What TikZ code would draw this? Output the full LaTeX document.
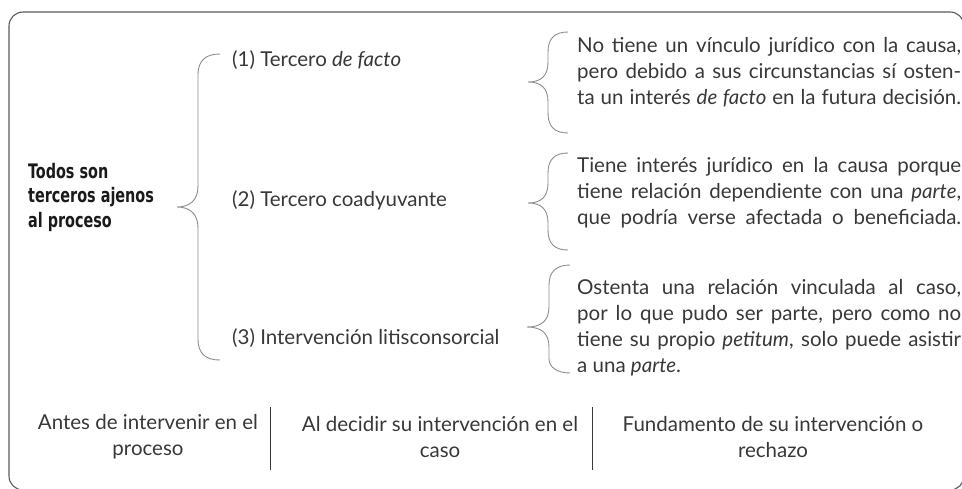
\documentclass[tikz,border=0pt]{standalone}
\usepackage{fontspec}
\setmainfont{Lato}
\newfontfamily\condfont{DejaVu Sans Condensed}[FakeStretch=0.8]
\definecolor{textgray}{HTML}{383838}
\definecolor{boldgray}{HTML}{1A1A1A}
\definecolor{bracegray}{HTML}{8C8C8C}
\definecolor{framegray}{HTML}{5A5A5A}
\tikzset{
  txt/.style={font=\fontsize{20.5}{26}\selectfont, text=textgray, inner sep=0pt},
  descbox/.style={txt, anchor=west, text width=384pt, align=justify},
  bracepath/.style={draw=bracegray, line width=0.9pt},
  seppath/.style={draw=textgray, line width=0.9pt}
}
\begin{document}
\begin{tikzpicture}[x=1pt,y=1pt,yscale=-1]
\clip (0,0) rectangle (962,488);

%Shape: Rounded Rectangle
\draw [framegray, line width=1.1pt, rounded corners=14pt] (9,12) rectangle (964,490);

%Shape: Brace
\draw [bracepath] (220,54) .. controls (206,54) and (198,60) .. (198,75) -- (198,186) .. controls (198,200) and (190,207) .. (177,207) .. controls (190,207) and (198,214) .. (198,228) -- (198,339) .. controls (198,354) and (206,360) .. (220,360) ;
%Shape: Brace
\draw [bracepath] (568,32) .. controls (555,32) and (548,38) .. (548,52) -- (548,62) .. controls (548,76) and (541,82) .. (528,82) .. controls (541,82) and (548,88) .. (548,102) -- (548,113) .. controls (548,127) and (555,133) .. (568,133) ;
%Shape: Brace
\draw [bracepath] (568,153) .. controls (555,153) and (548,159) .. (548,173) -- (548,183) .. controls (548,197) and (541,203) .. (528,203) .. controls (541,203) and (548,209) .. (548,223) -- (548,230) .. controls (548,244) and (555,250) .. (568,250) ;
%Shape: Brace
\draw [bracepath] (570,265) .. controls (557,265) and (549,271) .. (549,285) -- (549,307) .. controls (549,321) and (541,327) .. (527,327) .. controls (541,327) and (549,333) .. (549,347) -- (549,359) .. controls (549,367) and (557,373) .. (570,373) ;

% Text Node
\node [txt, anchor=west, align=left, text=boldgray, font=\condfont\bfseries\fontsize{20}{24.5}\selectfont] (todos) at (28,197) {Todos son\\terceros ajenos\\al proceso};
% Text Node
\node [txt, anchor=west] (tipo1) at (232,60) {(1) Tercero \textit{de facto}};
% Text Node
\node [txt, anchor=west] (tipo2) at (232,200) {(2) Tercero coadyuvante};
% Text Node
\node [txt, anchor=west] (tipo3) at (232,338) {(3) Intervención litisconsorcial};
% Text Node
\node [descbox] (desc1) at (577,84) {No tiene un vínculo jurídico con la causa,\linebreak pero debido a sus circunstancias sí osten-\linebreak ta un interés \textit{de facto} en la futura decisión.\linebreak};
% Text Node
\node [descbox] (desc2) at (577,204) {Tiene interés jurídico en la causa porque\linebreak tiene relación dependiente con una \textit{parte},\linebreak que podría verse afectada o beneficiada.\linebreak};
% Text Node
\node [descbox] (desc3) at (577,328) {Ostenta una relación vinculada al caso,\linebreak por lo que pudo ser parte, pero como no\linebreak tiene su propio \textit{petitum}, solo puede asistir\linebreak a una \textit{parte}.};

% Text Node
\node [txt, align=center] (fase1) at (148,437) {Antes de intervenir en el\\proceso};
% Text Node
\node [txt, align=center] (fase2) at (440,437) {Al decidir su intervención en el\\caso};
% Text Node
\node [txt, align=center] (fase3) at (773,437) {Fundamento de su intervención o\\rechazo};

%Straight Lines
\draw [seppath] (270,407) -- (270,470) ;
%Straight Lines
\draw [seppath] (592,407) -- (592,470) ;

\end{tikzpicture}
\end{document}
